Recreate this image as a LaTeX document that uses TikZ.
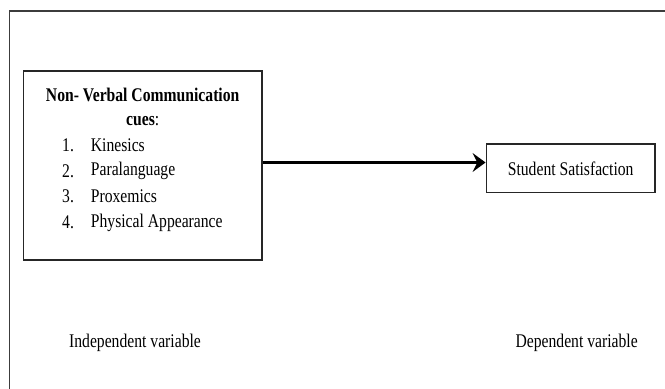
\documentclass[tikz,border=0pt]{standalone}
\usepackage{fontspec}
\setmainfont{Liberation Serif}[FakeStretch=0.81]
\usepackage{xcolor}
\usepackage{tikz}
\usetikzlibrary{positioning, arrows.meta}
\definecolor{frameline}{RGB}{60, 60, 60}

\begin{document}
\begin{tikzpicture}[
  box/.style={draw=black!85, line width=1.3pt},
  lbl/.style={font=\fontsize{16.5}{18}\selectfont, inner sep=0pt},
]
\useasboundingbox (0,0) rectangle (19.95,11.67);
\draw[frameline, line width=1.1pt] (0.28,0) -- (0.28,11.34) -- (19.95,11.34);
\node[box, minimum width=7.16cm, minimum height=5.67cm] (cues) at (4.28,6.705) {};
\node[lbl] (title) at (4.28,8.82) {\textbf{Non- Verbal Communication}};
\node[lbl] (cuestitle) at (4.28,8.05) {\textbf{cues}:};
\foreach \item [count=\i] in {Kinesics, Paralanguage, Proxemics, Physical Appearance} {
  \node[lbl, anchor=west] (num\i) at (1.86,{7.32-(\i-1)*0.775}) {\i.};
  \node[lbl, anchor=west] (item\i) at (2.72,{7.32-(\i-1)*0.775}) {\item};
}
\node[box, lbl, minimum width=5.06cm, minimum height=1.46cm] (sat) at (17.12,6.62) {Student Satisfaction};
\coordinate (from) at ([yshift=0.09cm]cues.east);
\draw[line width=2pt, -{Stealth[length=11pt,width=16pt,inset=4pt]}] (from) -- (from -| sat.west);
\node[lbl] (indep) at (4.05,1.38) {Independent variable};
\node[lbl] (dep) at (17.3,1.38) {Dependent variable};
\end{tikzpicture}
\end{document}
